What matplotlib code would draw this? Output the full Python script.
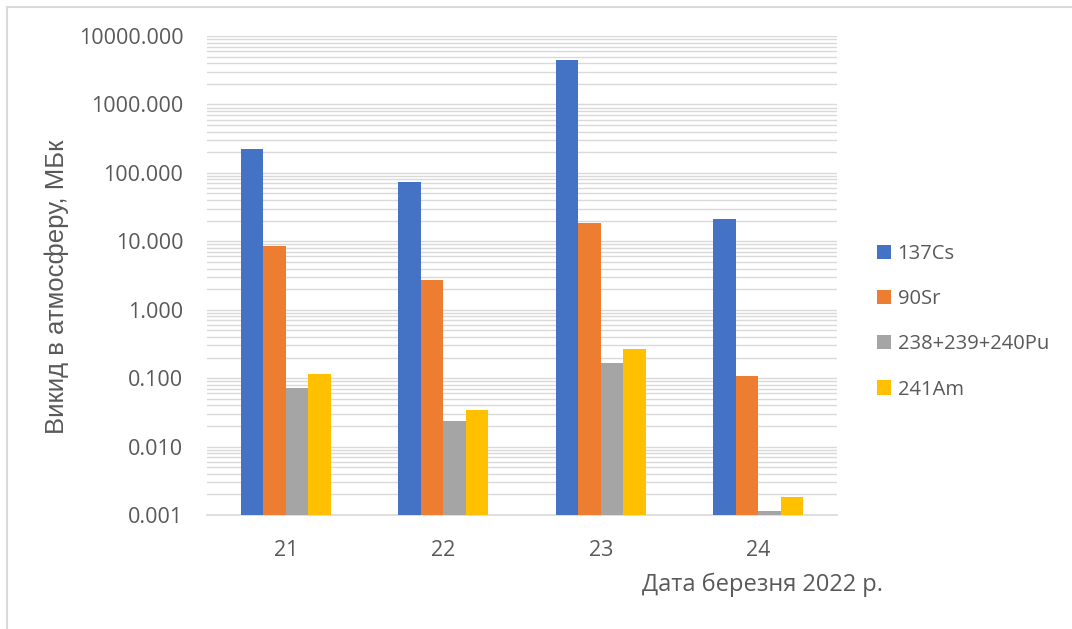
import numpy as np
import matplotlib
matplotlib.use("Agg")
from matplotlib import pyplot as plt
from matplotlib.lines import Line2D
from matplotlib.ticker import FormatStrFormatter, LogLocator, NullFormatter

days = ["21", "22", "23", "24"]
series = ["137Cs", "90Sr", "238+239+240Pu", "241Am"]
cs137 = [222, 74.6, 4490, 21.0]
sr90 = [8.65, 2.73, 18.6, 0.109]
pu = [0.071, 0.0237, 0.169, 0.00116]
am241 = [0.114, 0.034, 0.264, 0.00183]
values = [cs137, sr90, pu, am241]
colors = ["#4472C4", "#ED7D31", "#A5A5A5", "#FFC000"]

W, H = 1072, 629
fig = plt.figure(figsize=(W / 100, H / 100), dpi=100)
txt = "#595959"
grid_c = "#d9d9d9"

# plot area in pixels
left, right, top, bottom = 207, 837, 36, 515
ax = fig.add_axes([left / W, (H - bottom) / H, (right - left) / W, (bottom - top) / H])

x = np.arange(len(days))
w = 0.143
for i, (name, vals) in enumerate(zip(series, values)):
    ax.bar(x + (i - 1.5) * w, vals, width=w, color=colors[i], label=name, zorder=3)

ax.set_yscale("log")
ax.set_ylim(0.001, 10000)
ax.set_xlim(-0.5, len(days) - 0.5)
ax.yaxis.set_major_locator(LogLocator(base=10, numticks=20))
ax.yaxis.set_minor_locator(LogLocator(base=10, subs=np.arange(2, 10), numticks=20))
ax.yaxis.set_major_formatter(FormatStrFormatter("%.3f"))
ax.yaxis.set_minor_formatter(NullFormatter())
ax.grid(True, which="both", axis="y", color=grid_c, linewidth=1.0, zorder=0)

ax.set_xticks(x)
ax.set_xticklabels(days)
ax.tick_params(axis="both", which="both", length=0, colors=txt, labelsize=15.5)
ax.tick_params(axis="y", pad=17)
ax.tick_params(axis="x", pad=18)
for s in ["top", "right", "left"]:
    ax.spines[s].set_visible(False)
ax.spines["bottom"].set_color(grid_c)
ax.spines["bottom"].set_linewidth(1.2)

for lab in ax.get_xticklabels() + ax.get_yticklabels():
    lab.set_fontfamily("Open Sans")

fig.text(57 / W, 1 - 287 / H, "Викид в атмосферу, МБк", rotation=90, ha="center", va="center",
         color=txt, fontsize=18.5, fontfamily="Liberation Sans")
fig.text(642 / W, 1 - 585 / H, "Дата березня 2022 р.", ha="left", va="center",
         color=txt, fontsize=17, fontfamily="Open Sans")

leg = fig.legend(loc="upper left", bbox_to_anchor=(877 / W, 1 - 244 / H), frameon=False,
                 handlelength=0.7, handleheight=0.7, handletextpad=0.32, labelspacing=1.25,
                 borderpad=0, borderaxespad=0, prop={"family": "Open Sans", "size": 14.5})
for t in leg.get_texts():
    t.set_color(txt)

# outer frame (top and left edges only)
fig.add_artist(Line2D([7 / W, 1], [1 - 7 / H, 1 - 7 / H], color=grid_c, linewidth=1.5))
fig.add_artist(Line2D([7 / W, 7 / W], [0, 1 - 7 / H], color=grid_c, linewidth=1.5))

fig.savefig("out.png", dpi=100)
